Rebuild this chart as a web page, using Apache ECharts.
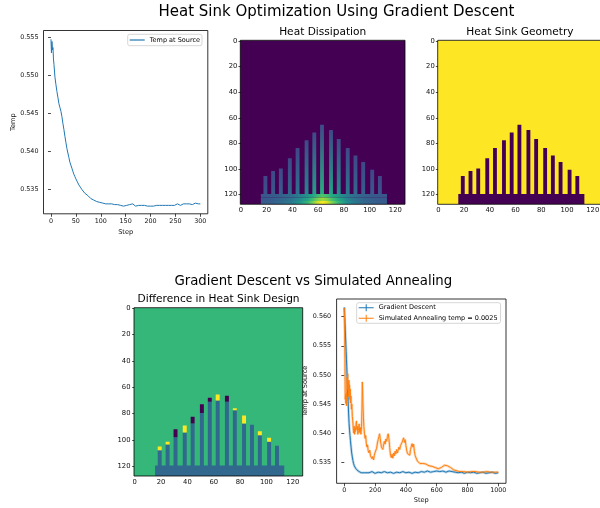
<!DOCTYPE html>
<html><head><meta charset="utf-8">
<script src="https://cdn.jsdelivr.net/npm/echarts@6/dist/echarts.min.js"></script>
<style>html,body{margin:0;padding:0;background:#fff}#c{width:600px;height:508px}</style>
</head><body><div id="c"></div>
<script>
// ---------------- DATA ----------------
// Temp at source vs step (top-left)
const tempSource = [[0,0.5548],[1,0.5530],[2,0.5545],[3,0.5534],[4,0.5537],[5,0.5522],[6,0.5515],[8,0.5498],[10,0.5488],[12,0.5479],[14,0.5471],[16,0.5463],[18,0.5458],[20,0.5453],[22,0.5446],[24,0.5437],[26,0.5429],[28,0.5420],[30,0.5412],[32,0.5404],[34,0.5398],[36,0.5392],[38,0.5386],[40,0.5382],[42,0.5378],[44,0.5374],[46,0.5370],[48,0.5367],[50,0.5364],[53,0.5360],[56,0.5356],[59,0.5353],[62,0.5350],[65,0.5348],[68,0.5345],[71,0.5345],[74,0.5342],[77,0.5340],[80,0.5338],[83,0.5339],[86,0.5336],[89,0.5336],[92,0.5334],[95,0.5335],[98,0.5333],[101,0.5333],[104,0.5332],[107,0.5333],[110,0.5331],[113,0.5332],[116,0.5331],[119,0.5330],[122,0.5331],[125,0.5330],[128,0.5330],[131,0.5329],[134,0.5330],[137,0.5329],[140,0.5329],[143,0.5330],[146,0.5328],[149,0.5329],[152,0.5329],[155,0.5328],[158,0.5330],[161,0.5329],[164,0.5331],[167,0.5329],[170,0.5328],[173,0.5329],[176,0.5329],[179,0.5328],[182,0.5329],[185,0.5328],[188,0.5329],[191,0.5330],[194,0.5328],[197,0.5329],[200,0.5328],[203,0.5329],[206,0.5328],[209,0.5329],[212,0.5329],[215,0.5328],[218,0.5329],[221,0.5328],[224,0.5329],[227,0.5330],[230,0.5329],[233,0.5328],[236,0.5329],[239,0.5330],[242,0.5329],[245,0.5330],[248,0.5329],[251,0.5330],[254,0.5331],[257,0.5330],[260,0.5329],[263,0.5330],[266,0.5331],[269,0.5330],[272,0.5331],[275,0.5330],[278,0.5331],[281,0.5332],[284,0.5330],[287,0.5331],[290,0.5332],[293,0.5330],[296,0.5331],[300,0.5331]];

// Gradient descent vs simulated annealing (bottom-right)
const gdTemp = [[0,0.5616],[2,0.5603],[4,0.5590],[6,0.5578],[8,0.5565],[10,0.5553],[12,0.5540],[14,0.5527],[16,0.5514],[18,0.5500],[20,0.5487],[22,0.5474],[25,0.5455],[28,0.5433],[31,0.5417],[34,0.5405],[37,0.5396],[40,0.5387],[44,0.5376],[48,0.5366],[52,0.5359],[56,0.5353],[60,0.5348],[65,0.5344],[70,0.5341],[75,0.5339],[80,0.5337],[90,0.5335],[100,0.5334],[110,0.5332],[120,0.5334],[130,0.5332],[140,0.5333],[160,0.5332],[180,0.5334],[200,0.5331],[220,0.5333],[240,0.5332],[260,0.5334],[280,0.5332],[300,0.5333],[320,0.5331],[340,0.5333],[360,0.5332],[380,0.5334],[400,0.5332],[420,0.5333],[440,0.5331],[460,0.5333],[480,0.5332],[500,0.5334],[520,0.5333],[540,0.5335],[560,0.5333],[580,0.5334],[600,0.5335],[620,0.5334],[640,0.5335],[660,0.5333],[680,0.5335],[700,0.5334],[720,0.5333],[740,0.5332],[760,0.5333],[780,0.5331],[800,0.5333],[820,0.5332],[840,0.5333],[860,0.5331],[880,0.5332],[900,0.5333],[920,0.5331],[940,0.5332],[960,0.5333],[980,0.5331],[1000,0.5332]];
const saTemp = [[0,0.5615],[2,0.5592],[4,0.5528],[6,0.5458],[8,0.5466],[10,0.5451],[12,0.5468],[14,0.5447],[16,0.5472],[18,0.5496],[20,0.5478],[22,0.5502],[24,0.5474],[26,0.5489],[28,0.5463],[30,0.5491],[32,0.5469],[34,0.5483],[36,0.5458],[38,0.5476],[40,0.5452],[43,0.5464],[46,0.5441],[49,0.5450],[52,0.5429],[55,0.5421],[58,0.5408],[61,0.5400],[64,0.5412],[67,0.5398],[70,0.5409],[73,0.5403],[76,0.5415],[79,0.5421],[82,0.5406],[85,0.5412],[88,0.5398],[92,0.5405],[96,0.5416],[100,0.5401],[104,0.5410],[108,0.5398],[112,0.5412],[115,0.5445],[117,0.5488],[119,0.5475],[121,0.5452],[124,0.5428],[127,0.5412],[131,0.5399],[135,0.5391],[139,0.5396],[143,0.5382],[147,0.5376],[151,0.5380],[155,0.5370],[160,0.5366],[165,0.5371],[170,0.5361],[175,0.5364],[180,0.5356],[185,0.5360],[190,0.5354],[195,0.5362],[200,0.5367],[205,0.5365],[210,0.5374],[215,0.5383],[220,0.5389],[225,0.5394],[229,0.5399],[233,0.5391],[237,0.5383],[241,0.5376],[245,0.5379],[250,0.5372],[255,0.5380],[260,0.5386],[265,0.5381],[270,0.5390],[275,0.5386],[280,0.5394],[285,0.5399],[290,0.5390],[295,0.5375],[300,0.5362],[305,0.5358],[310,0.5364],[315,0.5357],[320,0.5366],[325,0.5361],[330,0.5369],[335,0.5364],[340,0.5372],[345,0.5366],[350,0.5369],[355,0.5376],[360,0.5372],[365,0.5379],[370,0.5377],[375,0.5384],[380,0.5388],[385,0.5392],[390,0.5384],[395,0.5389],[400,0.5379],[405,0.5371],[410,0.5365],[415,0.5362],[420,0.5366],[425,0.5362],[430,0.5372],[435,0.5377],[440,0.5382],[445,0.5376],[450,0.5381],[455,0.5369],[460,0.5362],[465,0.5358],[470,0.5355],[475,0.5352],[480,0.5351],[490,0.5348],[500,0.5347],[510,0.5348],[520,0.5345],[530,0.5347],[540,0.5344],[550,0.5344],[560,0.5342],[570,0.5343],[580,0.5341],[590,0.5341],[600,0.5340],[610,0.5339],[620,0.5340],[630,0.5341],[640,0.5344],[650,0.5345],[660,0.5343],[670,0.5344],[680,0.5342],[690,0.5341],[700,0.5339],[710,0.5337],[720,0.5336],[735,0.5335],[750,0.5334],[775,0.5334],[800,0.5333],[825,0.5334],[850,0.5334],[875,0.5333],[900,0.5333],[925,0.5334],[950,0.5333],[975,0.5333],[1000,0.5333]];

// Heat sink geometry (image pixel coordinates, 128 x 128 image)
const imageSize = 128;
const baseSpan = [15.5, 113.5];      // base left / right edge
const baseTop = 119.5;               // base top edge
const finLeft = [17.5, 23.5, 29.5, 36.5, 42.5, 49.5, 55.5, 61.5, 68.5, 74.5, 81.5, 87.5, 93.5, 100.5, 106.5];
const finWidth = 3;
const finTop = [105.5, 101.5, 99.5, 91.5, 83.5, 77.5, 71.5, 65.5, 69.5, 76.5, 83.5, 89.5, 94.5, 100.5, 105.5];

// Heat dissipation field (normalised 0..1)
const baseHeatX   = [15.5, 24, 32, 40, 46, 52, 56, 60, 63.5, 67, 71, 76, 82, 88, 96, 104, 113.5];
const baseHeatTop = [0.27,0.28,0.31,0.36,0.43,0.52,0.60,0.68,0.72,0.68,0.60,0.52,0.43,0.36,0.31,0.28,0.27];
const baseHeatMid = [0.27,0.29,0.33,0.39,0.48,0.60,0.70,0.80,0.85,0.80,0.70,0.60,0.47,0.38,0.32,0.29,0.27];
const baseHeatBot = [0.28,0.30,0.35,0.42,0.52,0.66,0.80,0.93,1.00,0.93,0.80,0.65,0.50,0.40,0.33,0.30,0.28];
const finHeatBase = [0.26,0.28,0.30,0.33,0.38,0.46,0.56,0.62,0.58,0.48,0.40,0.34,0.30,0.28,0.26];
const finHeatTip  = [0.21,0.21,0.21,0.21,0.21,0.22,0.22,0.22,0.22,0.22,0.21,0.21,0.21,0.21,0.21];

// Difference in heat sink design
const diffFinTop = [108, 103.5, 98, 94.5, 87.5, 79.5, 71, 70, 71, 77.5, 87.5, 88.5, 96.5, 101.5, 104.5];
const diffCapTop = [105, 101.5, 92, 89, 82.5, 73, 68, 65.5, 66.5, 76, 81.5, null, 93.5, 98.5, null];
const diffCapSign = [1, 1, -1, 1, -1, -1, -1, 1, -1, 1, 1, 0, 1, 1, 0];

const imgTicks = [0, 20, 40, 60, 80, 100, 120];
const stepTicksA = [0, 50, 100, 150, 200, 250, 300];
const tempTicksA = [0.535, 0.540, 0.545, 0.550, 0.555];
const stepTicksB = [0, 200, 400, 600, 800, 1000];
const tempTicksB = [0.535, 0.540, 0.545, 0.550, 0.555, 0.560];

// ---------------- STYLE HELPERS ----------------
const FONT = 'DejaVu Sans';
const VIR = ['#440154','#482475','#414487','#355f8d','#2a788e','#21918c','#22a884','#44bf70','#7ad151','#bddf26','#fde725'];
function hx(h){return [parseInt(h.slice(1,3),16),parseInt(h.slice(3,5),16),parseInt(h.slice(5,7),16)];}
function vir(t){
  t=Math.max(0,Math.min(1,t)); const p=t*10, i=Math.min(9,Math.floor(p)), f=p-i;
  const a=hx(VIR[i]), b=hx(VIR[i+1]);
  return 'rgb('+a.map((v,k)=>Math.round(v+(b[k]-v)*f)).join(',')+')';
}
const LG = echarts.graphic.LinearGradient;

const grids = [
  {left:43.5, top:30.5, width:164.3, height:183.3},
  {left:240.3, top:40.3, width:164.7, height:164},
  {left:437.7, top:40.3, width:164.7, height:164},
  {left:134, top:307.7, width:168.7, height:168.3},
  {left:336.6, top:299, width:169.4, height:184.3}
];

// ---------------- BUILD RECTS ----------------
const lo = -0.5, hi = imageSize - 0.5;
function rectSeries(gi, rects, fills){
  return {
    type:'custom', xAxisIndex:gi, yAxisIndex:gi, clip:true, silent:true, animation:false,
    data: rects, encode:{x:[0,2], y:[1,3]},
    renderItem: function(params, api){
      const p0 = api.coord([api.value(0), api.value(1)]);
      const p1 = api.coord([api.value(2), api.value(3)]);
      return {type:'rect', shape:{x:Math.min(p0[0],p1[0]), y:Math.min(p0[1],p1[1]),
        width:Math.abs(p1[0]-p0[0]), height:Math.abs(p1[1]-p0[1])},
        style:{fill: fills[params.dataIndex]}};
    }
  };
}
// geometry
const geoRects=[[lo,lo,hi,hi]], geoFills=['#fde725'];
finLeft.forEach((x,i)=>{geoRects.push([x,finTop[i],x+finWidth,baseTop+0.5]); geoFills.push('#440154');});
geoRects.push([baseSpan[0],baseTop,baseSpan[1],hi]); geoFills.push('#440154');

// heat
const heatRects=[[lo,lo,hi,hi]], heatFills=['#440154'];
finLeft.forEach((x,i)=>{
  heatRects.push([x,finTop[i],x+finWidth,baseTop+0.5]);
  heatFills.push(new LG(0,0,0,1,[{offset:0,color:vir(finHeatTip[i])},{offset:1,color:vir(finHeatBase[i])}]));
});
const bandEdges=[baseTop, baseTop+2.7, baseTop+5.4, hi];
[baseHeatTop, baseHeatMid, baseHeatBot].forEach((row,b)=>{
  heatRects.push([baseSpan[0],bandEdges[b],baseSpan[1],bandEdges[b+1]]);
  const w=baseSpan[1]-baseSpan[0];
  heatFills.push(new LG(0,0,1,0,row.map((v,k)=>({offset:(baseHeatX[k]-baseSpan[0])/w,color:vir(v)}))));
});

// difference
const diffRects=[[lo,lo,hi,hi]], diffFills=['#35b779'];
finLeft.forEach((x,i)=>{
  diffRects.push([x,diffFinTop[i],x+finWidth,baseTop+0.5]); diffFills.push('#31688e');
  if(diffCapSign[i]!==0){
    diffRects.push([x,diffCapTop[i],x+finWidth,diffFinTop[i]]);
    diffFills.push(diffCapSign[i]>0?'#fde725':'#440154');
  }
});
diffRects.push([baseSpan[0],baseTop,baseSpan[1],hi]); diffFills.push('#31688e');

// ---------------- AXES ----------------
const tick = {show:true, length:2.5, lineStyle:{color:'#000', width:0.7}};
function lab(size, margin, fmt){ return {show:true, fontSize:size, color:'#111', fontFamily:FONT, margin:margin, formatter:fmt || (v=>String(v))}; }
function imgAxes(gi, xm, ym){
  return [
    {type:'value', gridIndex:gi, min:lo, max:hi, splitLine:{show:false}, axisLine:{show:false},
     axisTick:Object.assign({customValues:imgTicks}, tick), axisLabel:Object.assign({customValues:imgTicks}, lab(6.8,xm))},
    {type:'value', gridIndex:gi, min:lo, max:hi, inverse:true, splitLine:{show:false}, axisLine:{show:false},
     axisTick:Object.assign({customValues:imgTicks}, tick), axisLabel:Object.assign({customValues:imgTicks}, lab(6.8,ym))}
  ];
}
const f3 = v => v.toFixed(3);
const nameStyle = {fontSize:6.6, color:'#111', fontFamily:FONT};
const xAxes=[], yAxes=[];
xAxes.push({type:'value', gridIndex:0, min:-15, max:315, splitLine:{show:false}, axisLine:{show:false},
  axisTick:Object.assign({customValues:stepTicksA}, tick, {length:3}), axisLabel:Object.assign({customValues:stepTicksA}, lab(6.4,5)),
  name:'Step', nameLocation:'middle', nameGap:14.5, nameTextStyle:nameStyle});
yAxes.push({type:'value', gridIndex:0, min:0.53179, max:0.55595, splitLine:{show:false}, axisLine:{show:false},
  axisTick:Object.assign({customValues:tempTicksA}, tick, {length:3}), axisLabel:Object.assign({customValues:tempTicksA}, lab(6.4,5,f3)),
  name:'Temp', nameLocation:'middle', nameGap:26, nameTextStyle:nameStyle});
[[1,2.3,3],[2,2.3,3],[3,3,3.5]].forEach(([gi,xm,ym])=>{const a=imgAxes(gi,xm,ym); xAxes.push(a[0]); yAxes.push(a[1]);});
xAxes.push({type:'value', gridIndex:4, min:-50, max:1050, splitLine:{show:false}, axisLine:{show:false},
  axisTick:Object.assign({customValues:stepTicksB}, tick, {length:3}), axisLabel:Object.assign({customValues:stepTicksB}, lab(6.4,4)),
  name:'Step', nameLocation:'middle', nameGap:13, nameTextStyle:nameStyle});
yAxes.push({type:'value', gridIndex:4, min:0.53139, max:0.56304, splitLine:{show:false}, axisLine:{show:false},
  axisTick:Object.assign({customValues:tempTicksB}, tick, {length:3}), axisLabel:Object.assign({customValues:tempTicksB}, lab(6.4,5.5,f3)),
  name:'Temp at Source', nameLocation:'middle', nameGap:25.8, nameTextStyle:nameStyle});

// ---------------- GRAPHICS (titles, image frames) ----------------
function txt(text, x, y, size){
  return {type:'text', x:x, y:y, z:100, silent:true,
    style:{text:text, font:size+'px "'+FONT+'"', fill:'#000', textAlign:'center', align:'center', textVerticalAlign:'middle', verticalAlign:'middle'}};
}
const graphics=[
  txt('Heat Sink Optimization Using Gradient Descent', 336.5, 12.5, 15),
  txt('Heat Dissipation', 322.7, 32.3, 10.6),
  txt('Heat Sink Geometry', 519.9, 32.3, 10.6),
  txt('Gradient Descent vs Simulated Annealing', 313.3, 281.5, 13.3),
  txt('Difference in Heat Sink Design', 218.6, 299, 10.6)
];
[1,2,3].forEach(gi=>{const g=grids[gi]; graphics.push({type:'rect', z:100, silent:true,
  shape:{x:g.left, y:g.top, width:g.width, height:g.height}, style:{fill:'none', stroke:'#000', lineWidth:0.8}});});

const legendBase = {textStyle:{fontSize:6.5, color:'#000', fontFamily:FONT}, borderColor:'#cccccc', borderWidth:0.8,
  borderRadius:2, backgroundColor:'rgba(255,255,255,0.8)', itemWidth:15, itemHeight:7, selectedMode:false, itemStyle:{borderWidth:0}};

const option = {
  animation:false,
  textStyle:{fontFamily:FONT},
  grid: grids.map((g,i)=>Object.assign({show: i===0||i===4, borderColor:'#000', borderWidth:0.8, backgroundColor:'transparent', containLabel:false, outerBoundsMode:'none'}, g)),
  xAxis: xAxes, yAxis: yAxes,
  legend:[
    Object.assign({}, legendBase, {data:['Temp at Source'], left:127.7, top:34.3, padding:[2.2,2], icon:'path://M0,0h15v1.2h-15z'}),
    Object.assign({}, legendBase, {data:['Gradient Descent','Simulated Annealing temp = 0.0025'], orient:'vertical', left:356.7, top:302.7,
      padding:[1.6,3,1.6,2], itemGap:3.4, icon:'path://M0,3h15v1h-15z M7,0h1v7h-1z'})
  ],
  graphic: graphics,
  series:[
    {type:'line', name:'Temp at Source', xAxisIndex:0, yAxisIndex:0, data:tempSource, symbol:'none', clip:true,
      lineStyle:{width:1, color:'#1f77b4'}, itemStyle:{color:'#1f77b4'}},
    rectSeries(1, heatRects, heatFills),
    rectSeries(2, geoRects, geoFills),
    rectSeries(3, diffRects, diffFills),
    {type:'line', name:'gd-bars', xAxisIndex:4, yAxisIndex:4, data:gdTemp, symbol:'none', clip:true, silent:true,
      lineStyle:{width:2.6, color:'#1f77b4', opacity:0.3}, itemStyle:{color:'#1f77b4'}},
    {type:'line', name:'sa-bars', xAxisIndex:4, yAxisIndex:4, data:saTemp, symbol:'none', clip:true, silent:true,
      lineStyle:{width:2.6, color:'#ff7f0e', opacity:0.3}, itemStyle:{color:'#ff7f0e'}},
    {type:'line', name:'Gradient Descent', xAxisIndex:4, yAxisIndex:4, data:gdTemp, symbol:'none', clip:true,
      lineStyle:{width:1, color:'#1f77b4'}, itemStyle:{color:'#1f77b4'}},
    {type:'line', name:'Simulated Annealing temp = 0.0025', xAxisIndex:4, yAxisIndex:4, data:saTemp, symbol:'none', clip:true,
      lineStyle:{width:1, color:'#ff7f0e'}, itemStyle:{color:'#ff7f0e'}}
  ]
};
const chart = echarts.init(document.getElementById('c'), null, {renderer:'canvas'});
chart.setOption(option);
</script></body></html>
